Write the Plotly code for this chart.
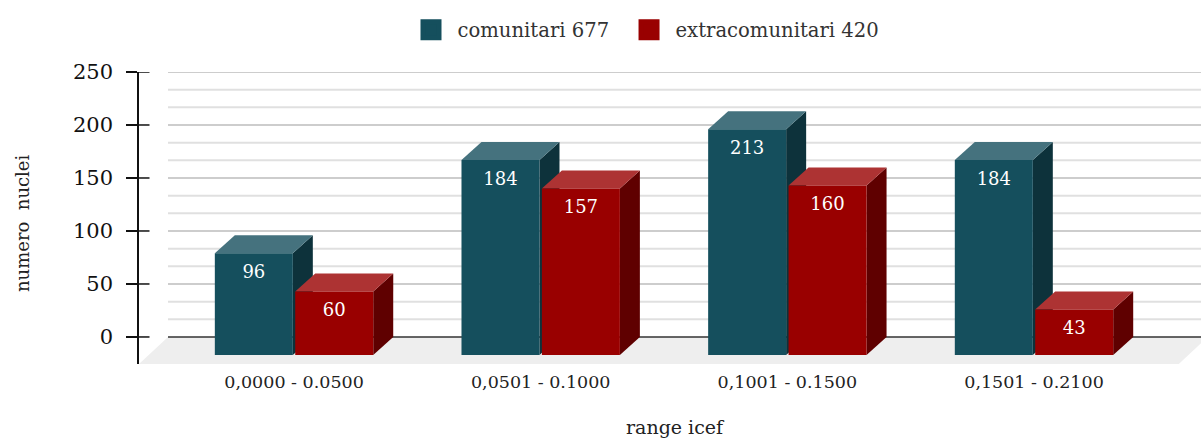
import plotly.graph_objects as go

categories = ["0,0000 - 0.0500", "0,0501 - 0.1000", "0,1001 - 0.1500", "0,1501 - 0.2100"]
comunitari = [96, 184, 213, 184]
extracomunitari = [60, 157, 160, 43]
series_names = ["comunitari 677", "extracomunitari 420"]
y_major = [0, 50, 100, 150, 200, 250]

FONT = "DejaVu Serif"
TEAL = ("#154f5d", "#0d323b", "#45727e")
RED = ("#990000", "#5f0000", "#ad3333")

BAR_W = 78 / 246.67
GAP = 2.4 / 246.67
DX = 20 / 246.67
DY = 17.0
X_RANGE = [-0.6285, 3.677]
Y_RANGE = [-25.5, 250]

fig = go.Figure()


def poly(xs, ys, color):
    fig.add_trace(go.Scatter(x=xs + xs[:1], y=ys + ys[:1], mode="lines", fill="toself",
                             fillcolor=color, line=dict(width=0), hoverinfo="skip", showlegend=False))


def line(xs, ys, color, width):
    fig.add_trace(go.Scatter(x=xs, y=ys, mode="lines", line=dict(color=color, width=width),
                             hoverinfo="skip", showlegend=False, cliponaxis=False))


# floor
xl, xr = X_RANGE[0], X_RANGE[1] - 0.09
poly([xl, xl + 29 / 246.67, xr + 29 / 246.67, xr], [Y_RANGE[0], 0, 0, Y_RANGE[0]], "#eeeeee")

# grid
gx0 = X_RANGE[0] + 29 / 246.67
gx1 = X_RANGE[1]
for i in range(5):
    for k in (1, 2):
        v = y_major[i] + k * 50 / 3
        line([gx0, gx1], [v, v], "#e0e0e0", 2)
for v in y_major[1:]:
    line([gx0, gx1], [v, v], "#bcbcbc", 1.6)
line([gx0, gx1], [0, 0], "#333333", 1.6)

# tick stubs to the right of the axis
stub = 10.5 / 246.67
for v in y_major:
    line([X_RANGE[0], X_RANGE[0] + stub], [v, v], "#111111", 1.5)


def box(x0, value, colors):
    x1 = x0 + BAR_W
    top = value - DY
    base = -DY
    front, side, lid = colors
    poly([x1, x1 + DX, x1 + DX, x1], [base, base + DY, top + DY, top], side)
    poly([x0, x0 + DX, x1 + DX, x1], [top, top + DY, top + DY, top], lid)
    poly([x0, x1, x1, x0], [base, base, top, top], front)


label_x, label_y, label_t = [], [], []
for i in range(len(categories)):
    x_a = i - BAR_W - GAP / 2
    x_b = i + GAP / 2
    box(x_a, comunitari[i], TEAL)
    box(x_b, extracomunitari[i], RED)
    label_x += [x_a + BAR_W / 2, x_b + BAR_W / 2]
    label_y += [comunitari[i] - DY - 19, extracomunitari[i] - DY - 19]
    label_t += [str(comunitari[i]), str(extracomunitari[i])]

fig.add_trace(go.Scatter(x=label_x, y=label_y, text=label_t, mode="text",
                         textfont=dict(family=FONT, size=18, color="white"),
                         hoverinfo="skip", showlegend=False))

for name, col, lg in zip(series_names, (TEAL[0], RED[0]), ("legend", "legend2")):
    fig.add_trace(go.Scatter(x=[None], y=[None], mode="markers", name=name, legend=lg,
                             marker=dict(symbol="square", size=16, color=col,
                                         line=dict(color=col, width=5))))

legend_common = dict(orientation="h", xanchor="left", y=1.144, yanchor="middle",
                     itemwidth=43, itemclick=False,
                     font=dict(family=FONT, size=19.6, color="#333333"))

fig.update_layout(
    width=1201, height=439, autosize=False,
    margin=dict(l=139, r=0, t=72, b=75),
    paper_bgcolor="white", plot_bgcolor="white",
    font=dict(family=FONT, color="#222222"),
    legend=dict(x=0.25, **legend_common),
    legend2=dict(x=0.4553, **legend_common),
    xaxis=dict(range=X_RANGE, tickmode="array", tickvals=list(range(4)), ticktext=categories,
               showgrid=False, zeroline=False, showline=False, ticks="", ticklabelstandoff=5,
               tickfont=dict(family=FONT, size=17.5, color="#222222")),
    yaxis=dict(range=Y_RANGE, tickmode="array", tickvals=y_major, showgrid=False, zeroline=False,
               showline=True, linecolor="#111111", linewidth=1.5, ticks="outside", ticklen=11,
               tickcolor="#111111", tickwidth=1.5, ticklabelstandoff=9,
               tickfont=dict(family=FONT, size=21, color="#111111")),
    annotations=[
        dict(text="range icef", xref="paper", yref="paper", x=(675 - 139) / 1062, y=(364 - 427) / 292,
             showarrow=False, xanchor="center", yanchor="middle",
             font=dict(family=FONT, size=19, color="#222222")),
        dict(text="numero  nuclei", xref="paper", yref="paper", x=(22 - 139) / 1062, y=(364 - 224) / 292,
             showarrow=False, textangle=-90, xanchor="center", yanchor="middle",
             font=dict(family=FONT, size=18, color="#222222")),
    ],
)

fig.write_html("out.html", config={"displayModeBar": False},
               post_script="document.body.style.margin='0';")
